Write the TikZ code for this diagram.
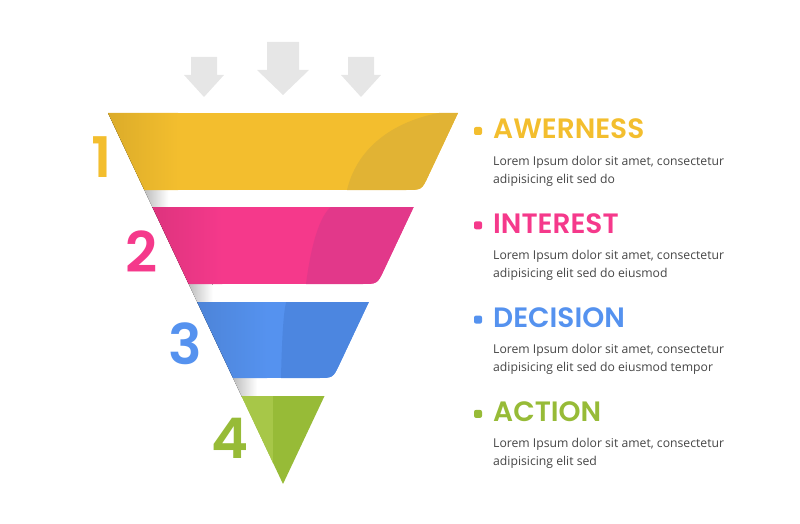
\documentclass[tikz,border=0pt]{standalone}
\usepackage{fontspec}
\setmainfont{Open Sans}
\newfontfamily\headfont{Poppins SemiBold}
\usetikzlibrary{positioning}

\definecolor{fyellow}{HTML}{F3BE2E}
\definecolor{fyellowdk}{HTML}{E1B334}
\definecolor{fpink}{HTML}{F5398B}
\definecolor{fpinkdk}{HTML}{E2388A}
\definecolor{fblue}{HTML}{5592EF}
\definecolor{fbluedk}{HTML}{4C86E0}
\definecolor{fgreen}{HTML}{97BB37}
\definecolor{fgreenlt}{HTML}{A7C748}
\definecolor{arrowgray}{HTML}{E6E6E6}
\definecolor{bodygray}{HTML}{454545}

% edges of the funnel triangle
\newcommand\funL[1]{108+0.4717*(#1-113)}
\newcommand\funR[1]{458-0.4717*(#1-113)}

\begin{document}
\begin{tikzpicture}[
    x=1pt, y=-1pt,
    stagenum/.style={font=\headfont\fontsize{56}{56}\selectfont, anchor=base, inner sep=0pt},
    stagetitle/.style={font=\headfont\fontsize{28}{28}\selectfont, anchor=base west, inner sep=0pt},
    stagetext/.style={font=\fontsize{12.2}{18}\selectfont, text=bodygray, align=left, anchor=base west, inner sep=0pt},
    bullet/.style={rectangle, rounded corners=2pt, minimum size=8pt, inner sep=0pt},
    inarrow/.style={fill=arrowgray}
]
\useasboundingbox (0,0) rectangle (800,524);

% Arrows going into the funnel
\foreach \x/\bw/\hw/\yt/\yh/\yp in {204/13/20/57/75/97, 283/16/26/42/70/95, 361/13/20/57/75/97} {
    \fill[inarrow] ({\x-\bw},\yt) -- ({\x+\bw},\yt) -- ({\x+\bw},\yh) -- ({\x+\hw},\yh)
        -- (\x,\yp) -- ({\x-\hw},\yh) -- ({\x-\bw},\yh) -- cycle;
}

% Shadow in the gaps
\begin{scope}
    \clip (108,113) -- (458,113) -- (283,484) -- cycle;
    \foreach \y in {190,284,378} {
        \fill[left color=black!28, right color=white] ({\funL{\y}-2},\y) rectangle ({\funL{\y}+24},{\y+19});
    }
\end{scope}

% Funnel bands
\foreach \col/\dk/\ya/\yb/\fa/\fb/\fc/\fd in {fyellow/fyellowdk/113/190/347/358/400/452,
                                              fpink/fpinkdk/207/284/306/312/322/334,
                                              fblue/fbluedk/302/378/281/282/284/287} {
    \begin{scope}
        \clip ({\funL{\ya}},\ya) -- ({\funR{\ya}},\ya) -- ({\funR{\yb-14}},{\yb-14})
            .. controls ({\funR{\yb}},\yb) .. ({\funR{\yb}-16},\yb) -- ({\funL{\yb}},\yb) -- cycle;
        \fill[\col] (100,\ya) rectangle (470,\yb);
        \fill[left color=\col!90!black, right color=\col] ({\funL{\ya}-2},\ya) rectangle ({\funL{\ya}+70},\yb);
        \fill[\dk] (\fa,\yb) .. controls (\fb,{\yb-0.6*(\yb-\ya)}) and (\fc,{\ya+0.05*(\yb-\ya)}) .. (\fd,{\ya-2})
            -- (470,{\ya-2}) -- (470,{\yb+2}) -- (\fa,{\yb+2}) -- cycle;
    \end{scope}
}

% Last band (triangle tip)
\begin{scope}
    \clip ({\funL{396}},396) -- ({\funR{396}},396) -- (283,484) -- cycle;
    \fill[fgreen] (230,396) rectangle (340,484);
    \fill[fgreenlt] (230,396) rectangle (273,484);
\end{scope}

% Numbers
\node[stagenum, text=fyellow] (num1) at (102,177) {1};
\node[stagenum, text=fpink] (num2) at (142,272) {2};
\node[stagenum, text=fblue] (num3) at (185,364) {3};
\node[stagenum, text=fgreen] (num4) at (230,458) {4};

% Stage titles and texts
\foreach \i/\col/\name/\last in {0/fyellow/AWERNESS/{adipisicing elit sed do},
                                 1/fpink/INTEREST/{adipisicing elit sed do eiusmod},
                                 2/fblue/DECISION/{adipisicing elit sed do eiusmod tempor},
                                 3/fgreen/ACTION/{adipisicing elit sed}} {
    \node[bullet, fill=\col] (bullet\i) at (478,{131+94.3*\i}) {};
    \node[stagetitle, text=\col] (title\i) at (493,{139+94.3*\i}) {\name};
    \node[stagetext] (text\i) at (493,{183+94.3*\i}) {Lorem Ipsum dolor sit amet, consectetur\\\last};
}
\end{tikzpicture}
\end{document}
